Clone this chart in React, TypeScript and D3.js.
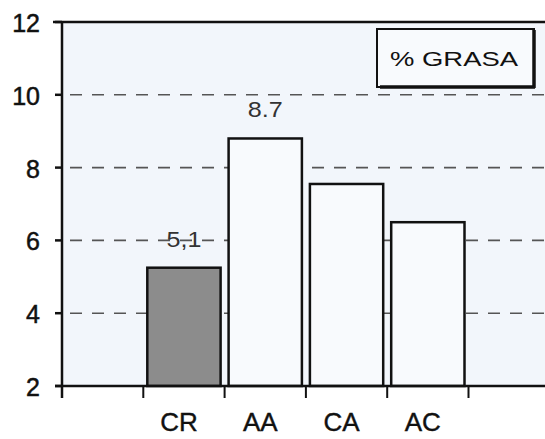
import React from 'react';
import * as d3 from 'd3';

// categories and values
const categories = ['CR', 'AA', 'CA', 'AC'];
const values = [5.25, 8.8, 7.55, 6.5];
const valueLabels = ['5,1', '8.7', '', ''];
const barFills = ['#8c8c8c', '#f8fafd', '#f8fafd', '#f8fafd'];
const yTicks = [2, 4, 6, 8, 10, 12];
const gridTicks = [4, 6, 8, 10];
const legendLabel = '% GRASA';

const W = 545;
const H = 439;
const font = '"Liberation Sans", Arial, sans-serif';

const App: React.FC = () => {
    const y = d3.scaleLinear().domain([2, 12]).range([386, 22]);
    // empty slots either side so ticks land on band edges like the original
    const x = d3.scaleBand<string>()
        .domain(['_pre', ...categories, '_post'])
        .range([62, 62 + 6 * 81.3]);
    const inset = 4;
    const bandW = x.bandwidth();
    const tickXs = categories.map(c => x(c) as number).concat([(x('AC') as number) + bandW]);

    return (
        <svg width={W} height={H} style={{ position: 'absolute', left: 0, top: 0, background: '#fff' }}>
            {/* plot background */}
            <rect x={62} y={22} width={W - 62} height={386 - 22} fill="#f2f6fb" />

            {/* dashed grid */}
            {gridTicks.map(t => (
                <line key={t} x1={62} x2={W} y1={y(t)} y2={y(t)}
                    stroke="#555" strokeWidth={1.6} strokeDasharray="12 10" strokeDashoffset={-8} />
            ))}

            {/* bars */}
            {categories.map((c, i) => (
                <rect key={c}
                    x={(x(c) as number) + inset}
                    y={y(values[i])}
                    width={bandW - 2 * inset}
                    height={y(2) - y(values[i])}
                    fill={barFills[i]} stroke="#111" strokeWidth={2.5} />
            ))}

            {/* value labels */}
            {categories.map((c, i) => valueLabels[i] ? (
                <text key={c} x={(x(c) as number) + bandW / 2} y={y(values[i]) - 21}
                    textAnchor="middle" fontFamily={font} fontSize={22} fill="#333"
                    textLength={35} lengthAdjust="spacingAndGlyphs">
                    {valueLabels[i]}
                </text>
            ) : null)}

            {/* frame / axes */}
            <line x1={53} x2={W} y1={22} y2={22} stroke="#111" strokeWidth={2.5} />
            <line x1={62} x2={62} y1={21} y2={398} stroke="#111" strokeWidth={2.5} />
            <line x1={55} x2={W} y1={386} y2={386} stroke="#111" strokeWidth={2.5} />

            {/* y ticks */}
            {yTicks.map(t => (
                <g key={t}>
                    <line x1={55} x2={62} y1={y(t)} y2={y(t)} stroke="#111" strokeWidth={2.5} />
                    <text x={40} y={y(t) + 1} dy="0.36em" textAnchor="end"
                        fontFamily={font} fontSize={25} fill="#111"
                        stroke="#111" strokeWidth={0.5}>{t}</text>
                </g>
            ))}

            {/* x ticks */}
            {tickXs.map((tx, i) => (
                <line key={i} x1={tx} x2={tx} y1={386} y2={398} stroke="#111" strokeWidth={2} />
            ))}
            {categories.map(c => (
                <text key={c} x={(x(c) as number) + bandW / 2 - 5} y={431}
                    textAnchor="middle" fontFamily={font} fontSize={26} fill="#111"
                    stroke="#111" strokeWidth={0.4}>{c}</text>
            ))}

            {/* legend box */}
            <rect x={377} y={29} width={157} height={58} fill="#f8fafd" stroke="#111" strokeWidth={2} />
            <line x1={534} x2={534} y1={30} y2={88} stroke="#111" strokeWidth={3.5} />
            <line x1={380} x2={535} y1={87} y2={87} stroke="#111" strokeWidth={3.5} />
            <text x={454} y={58} dy="0.36em" textAnchor="middle"
                fontFamily={font} fontSize={21} fill="#111"
                textLength={128} lengthAdjust="spacingAndGlyphs">{legendLabel}</text>
        </svg>
    );
};

export default App;
